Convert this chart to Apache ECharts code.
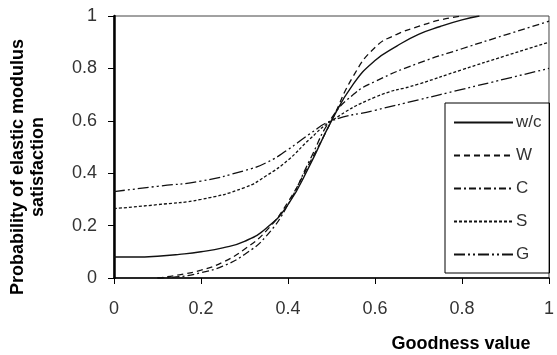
<!DOCTYPE html>
<html>
<head>
<meta charset="utf-8">
<script src="https://cdn.jsdelivr.net/npm/echarts@6/dist/echarts.min.js"></script>
<style>
  html, body { margin: 0; padding: 0; background: #fff; }
  #chart { width: 557px; height: 355px; }
</style>
</head>
<body>
<div id="chart"></div>
<script>
// goodness value (x) and probability (y)
const wcX = [0, 0.05, 0.1, 0.15, 0.2, 0.25, 0.3, 0.35, 0.4, 0.45, 0.5, 0.55, 0.6, 0.65, 0.7, 0.75, 0.8, 0.84];
const wcY = [0.08, 0.08, 0.083, 0.09, 0.1, 0.115, 0.14, 0.19, 0.28, 0.43, 0.6, 0.74, 0.83, 0.885, 0.93, 0.96, 0.985, 1.0];

const wX = [0.1, 0.15, 0.2, 0.25, 0.3, 0.35, 0.4, 0.45, 0.5, 0.55, 0.6, 0.65, 0.7, 0.75, 0.8];
const wY = [0, 0.012, 0.03, 0.06, 0.11, 0.18, 0.29, 0.44, 0.6, 0.77, 0.88, 0.93, 0.96, 0.985, 1.0];

const cX = [0.1, 0.15, 0.2, 0.25, 0.3, 0.35, 0.4, 0.45, 0.5, 0.55, 0.6, 0.7, 0.8, 0.9, 1];
const cY = [0, 0.005, 0.02, 0.045, 0.09, 0.16, 0.28, 0.45, 0.61, 0.7, 0.75, 0.82, 0.875, 0.928, 0.98];

const sX = [0, 0.1, 0.2, 0.3, 0.35, 0.4, 0.45, 0.5, 0.6, 0.7, 0.8, 0.9, 1];
const sY = [0.265, 0.28, 0.3, 0.345, 0.39, 0.45, 0.53, 0.6, 0.69, 0.74, 0.795, 0.848, 0.9];

const gX = [0, 0.1, 0.2, 0.3, 0.35, 0.4, 0.45, 0.5, 0.6, 0.7, 0.8, 0.9, 1];
const gY = [0.33, 0.35, 0.37, 0.41, 0.44, 0.49, 0.55, 0.6, 0.64, 0.68, 0.72, 0.76, 0.8];

const seriesNames = ["w/c", "W", "C", "S", "G"];
const xTicks = ["0", "0.2", "0.4", "0.6", "0.8", "1"];
const yTicks = ["0", "0.2", "0.4", "0.6", "0.8", "1"];

const FONT = "Liberation Sans, Arial, sans-serif";

function pairs(xs, ys) {
  return xs.map((x, i) => [x, ys[i]]);
}

// dash styles per curve
const dashes = ["solid", [6, 4], [7, 3, 2, 3], [3, 2], [11, 3, 2, 3, 2, 3]];
const curves = [pairs(wcX, wcY), pairs(wX, wY), pairs(cX, cY), pairs(sX, sY), pairs(gX, gY)];

const chart = echarts.init(document.getElementById("chart"));

chart.setOption({
  animation: false,
  backgroundColor: "#fff",
  grid: {
    left: 114, right: 3, top: 16, bottom: 77,
    show: true, borderColor: "#444", borderWidth: 1
  },
  xAxis: {
    type: "value", min: 0, max: 1, interval: 0.2,
    axisLine: { lineStyle: { color: "#000", width: 1.5 } },
    axisTick: { length: 6, lineStyle: { color: "#000" } },
    axisLabel: {
      margin: 22, color: "#333", fontFamily: FONT, fontSize: 18,
      formatter: (v) => xTicks[Math.round(v / 0.2)]
    },
    splitLine: { show: false }
  },
  yAxis: {
    type: "value", min: 0, max: 1, interval: 0.2,
    axisLine: { show: true, lineStyle: { color: "#000", width: 2.5 } },
    axisTick: { show: true, length: 6, lineStyle: { color: "#000" } },
    axisLabel: {
      margin: 17, color: "#333", fontFamily: FONT, fontSize: 18,
      formatter: (v) => yTicks[Math.round(v / 0.2)]
    },
    splitLine: { show: false }
  },
  legend: {
    orient: "vertical",
    left: 445, top: 103,
    padding: [11, 8, 10, 8],
    borderColor: "#000", borderWidth: 1,
    itemWidth: 59, itemHeight: 14, itemGap: 16,
    data: seriesNames,
    itemStyle: { opacity: 0 },
    textStyle: { fontFamily: FONT, fontSize: 17, color: "#333", padding: [0, 0, 0, -2] }
  },
  graphic: [
    {
      type: "text", x: 28, y: 167, rotation: Math.PI / 2,
      style: {
        text: "Probability of elastic modulus\nsatisfaction",
        font: "bold 18px " + FONT, fill: "#000",
        align: "center", verticalAlign: "middle", lineHeight: 20
      }
    },
    {
      type: "text", x: 461, y: 344,
      style: {
        text: "Goodness value",
        font: "bold 18px " + FONT, fill: "#000",
        align: "center", verticalAlign: "middle"
      }
    }
  ],
  series: curves.map((data, i) => ({
    name: seriesNames[i],
    type: "line",
    data: data,
    smooth: 0.5,
    showSymbol: false,
    symbol: "none",
    lineStyle: { color: "#111", width: i === 0 ? 1.4 : 1.3, type: dashes[i] },
    itemStyle: { color: "#111" }
  }))
});
</script>
</body>
</html>
